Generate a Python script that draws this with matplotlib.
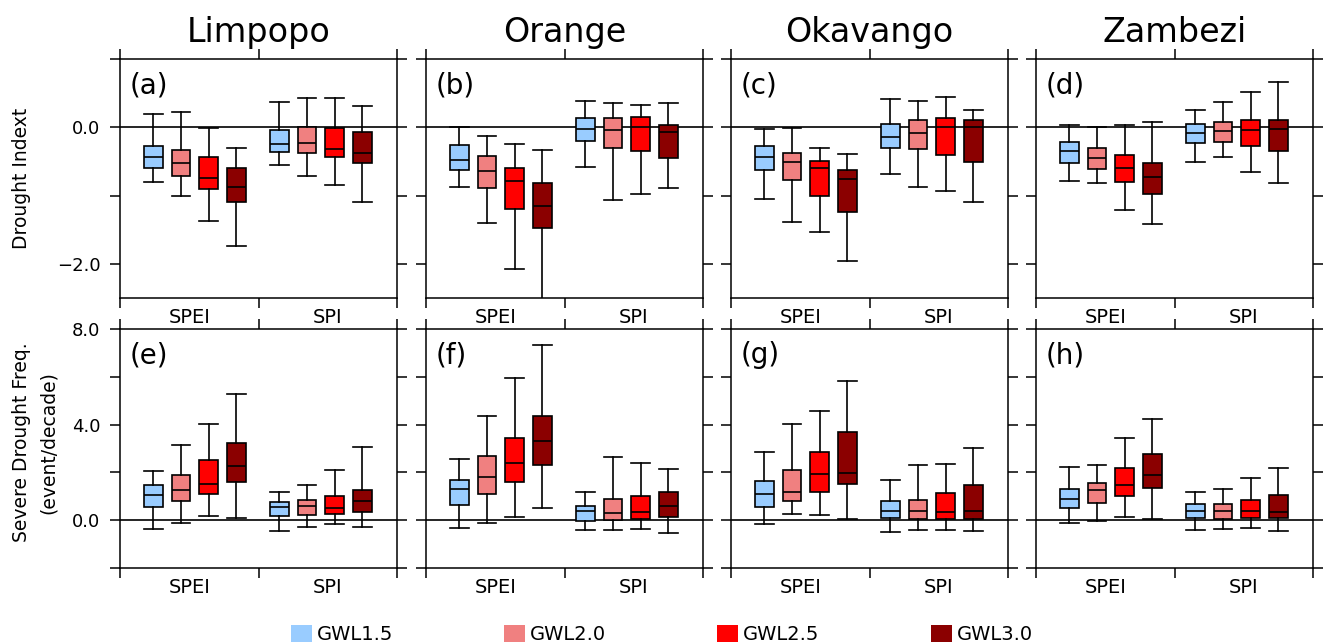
import numpy as np
import matplotlib.pyplot as plt
from matplotlib.patches import Patch

basins = ['Limpopo', 'Orange', 'Okavango', 'Zambezi']
gwls = ['GWL1.5', 'GWL2.0', 'GWL2.5', 'GWL3.0']
colors = ['#99CCFF', '#F08080', '#FF0000', '#8B0000']
indices = ['SPEI', 'SPI']
letters = ['(a)', '(b)', '(c)', '(d)', '(e)', '(f)', '(g)', '(h)']
positions = [1.2, 2.2, 3.2, 4.2, 5.75, 6.75, 7.75, 8.75]

# drought index (top row); each row = one basin: SPEI x4 GWLs, then SPI x4 GWLs
di_whishi = [
    [0.20, 0.23, -0.01, -0.31, 0.37, 0.43, 0.43, 0.31],
    [0.01, -0.13, -0.24, -0.33, 0.39, 0.36, 0.33, 0.36],
    [-0.03, -0.01, -0.31, -0.39, 0.42, 0.38, 0.44, 0.26],
    [0.03, 0.0, 0.04, 0.08, 0.25, 0.37, 0.52, 0.66],
]
di_q3 = [
    [-0.27, -0.33, -0.44, -0.60, -0.04, 0.0, -0.01, -0.07],
    [-0.26, -0.42, -0.60, -0.82, 0.13, 0.14, 0.15, 0.03],
    [-0.28, -0.37, -0.49, -0.63, 0.05, 0.10, 0.13, 0.11],
    [-0.21, -0.30, -0.40, -0.52, 0.05, 0.08, 0.10, 0.10],
]
di_med = [
    [-0.43, -0.53, -0.74, -0.88, -0.24, -0.23, -0.32, -0.37],
    [-0.48, -0.64, -0.79, -1.15, -0.03, -0.04, 0.0, -0.07],
    [-0.44, -0.51, -0.60, -0.76, -0.14, -0.08, 0.0, 0.0],
    [-0.34, -0.45, -0.60, -0.73, -0.08, -0.06, -0.04, -0.02],
]
di_q1 = [
    [-0.60, -0.72, -0.90, -1.10, -0.36, -0.38, -0.44, -0.53],
    [-0.62, -0.89, -1.19, -1.47, -0.20, -0.31, -0.35, -0.45],
    [-0.63, -0.77, -1.00, -1.24, -0.30, -0.32, -0.40, -0.51],
    [-0.52, -0.61, -0.80, -0.97, -0.23, -0.22, -0.28, -0.35],
]
di_whislo = [
    [-0.80, -1.00, -1.37, -1.74, -0.55, -0.71, -0.84, -1.10],
    [-0.88, -1.40, -2.07, -2.60, -0.58, -1.06, -0.97, -0.89],
    [-1.05, -1.38, -1.54, -1.96, -0.68, -0.88, -0.93, -1.10],
    [-0.78, -0.82, -1.21, -1.41, -0.51, -0.44, -0.66, -0.81],
]

# severe drought frequency (bottom row), event/decade
fq_whishi = [
    [2.04, 3.13, 4.01, 5.26, 1.18, 1.46, 2.08, 3.08],
    [2.58, 4.36, 5.93, 7.32, 1.19, 2.64, 2.39, 2.13],
    [2.86, 4.03, 4.58, 5.83, 1.67, 2.31, 2.35, 3.04],
    [2.24, 2.29, 3.42, 4.24, 1.18, 1.32, 1.75, 2.19],
]
fq_q3 = [
    [1.49, 1.90, 2.50, 3.25, 0.76, 0.83, 1.01, 1.26],
    [1.67, 2.68, 3.46, 4.36, 0.60, 0.88, 1.00, 1.19],
    [1.63, 2.08, 2.86, 3.71, 0.79, 0.86, 1.13, 1.47],
    [1.32, 1.57, 2.17, 2.79, 0.67, 0.67, 0.86, 1.07],
]
fq_med = [
    [1.06, 1.28, 1.53, 2.26, 0.56, 0.60, 0.49, 0.81],
    [1.32, 1.79, 2.40, 3.32, 0.38, 0.29, 0.36, 0.60],
    [1.08, 1.17, 1.93, 1.99, 0.40, 0.40, 0.35, 0.38],
    [0.90, 1.28, 1.49, 1.90, 0.38, 0.39, 0.40, 0.35],
]
fq_q1 = [
    [0.57, 0.79, 1.11, 1.60, 0.17, 0.21, 0.24, 0.33],
    [0.64, 1.11, 1.61, 2.31, -0.04, -0.01, 0.03, 0.13],
    [0.57, 0.81, 1.18, 1.53, 0.08, 0.03, 0.07, 0.03],
    [0.50, 0.74, 1.03, 1.36, 0.10, 0.07, 0.11, 0.11],
]
fq_whislo = [
    [-0.36, -0.10, 0.18, 0.11, -0.47, -0.28, -0.15, -0.28],
    [-0.31, -0.11, 0.13, 0.53, -0.40, -0.40, -0.38, -0.53],
    [-0.17, 0.26, 0.21, 0.03, -0.49, -0.39, -0.42, -0.47],
    [-0.13, -0.04, 0.15, 0.04, -0.40, -0.36, -0.32, -0.46],
]

di_yticks = [-2, -1, 0, 1]
di_ylabels = ['\u22122.0', '', '0.0', '']
fq_yticks = [-2, 0, 2, 4, 6, 8]
fq_ylabels = ['', '0.0', '', '4.0', '', '8.0']

W, H = 1323, 644
fig = plt.figure(figsize=(W / 100, H / 100), dpi=100)

lefts = [120, 426, 731, 1036]
tops = [59, 329]
aw, ah = 277, 239
lw = 1.2

rows = [
    (di_whishi, di_q3, di_med, di_q1, di_whislo, (-2.5, 1.0), di_yticks, di_ylabels),
    (fq_whishi, fq_q3, fq_med, fq_q1, fq_whislo, (-2.0, 8.0), fq_yticks, fq_ylabels),
]

for r, (whishi, q3, med, q1, whislo, ylim, yticks, ylabels) in enumerate(rows):
    for c in range(4):
        ax = fig.add_axes([lefts[c] / W, 1 - (tops[r] + ah) / H, aw / W, ah / H])
        stats = []
        for k in range(8):
            stats.append(dict(whislo=whislo[c][k], q1=q1[c][k], med=med[c][k],
                              q3=q3[c][k], whishi=whishi[c][k], fliers=[]))
        bp = ax.bxp(stats, positions=positions, widths=0.68, capwidths=0.68,
                    patch_artist=True, showfliers=False, manage_ticks=False,
                    boxprops=dict(linewidth=lw, edgecolor='black'),
                    medianprops=dict(color='black', linewidth=lw),
                    whiskerprops=dict(color='black', linewidth=lw),
                    capprops=dict(color='black', linewidth=lw))
        for k, box in enumerate(bp['boxes']):
            box.set_facecolor(colors[k % 4])
        ax.axhline(0, color='black', lw=lw, zorder=1)

        ax.set_xlim(0, 10)
        ax.set_ylim(*ylim)
        ax.set_xticks([0, 5, 10])
        ax.set_xticklabels([])
        ax.set_xticks([2.5, 7.5], minor=True)
        ax.set_xticklabels(indices, minor=True, fontsize=14)
        ax.tick_params(axis='x', which='minor', length=0, pad=7)
        ax.set_yticks(yticks)
        if c == 0:
            ax.set_yticklabels(ylabels, fontsize=13)
        else:
            ax.set_yticklabels([])
        ax.tick_params(axis='both', which='major', direction='out', length=7,
                       width=1.1, top=True, right=True, pad=7)
        for sp in ax.spines.values():
            sp.set_linewidth(1.1)

        ax.text(0.035, 0.89, letters[r * 4 + c], transform=ax.transAxes,
                fontsize=20, ha='left', va='center')

        if r == 0:
            fig.text((lefts[c] + aw / 2) / W, 1 - 42 / H, basins[c],
                     fontsize=24, ha='center', va='baseline')

fig.text(22 / W, 1 - (tops[0] + ah / 2) / H, 'Drought Indext', rotation=90,
         fontsize=13.5, ha='center', va='center')
fig.text(35 / W, 1 - (tops[1] + ah / 2 - 6) / H, 'Severe Drought Freq.\n(event/decade)',
         rotation=90, fontsize=13.5, ha='center', va='center', linespacing=1.5,
         multialignment='center')

handles = [Patch(facecolor=col, edgecolor='none') for col in colors]
fig.legend(handles, gwls, loc='center left', bbox_to_anchor=(291 / W, 1 - 634.5 / H),
           ncol=4, frameon=False, fontsize=14, handlelength=1.08, handleheight=0.98,
           handletextpad=0.26, columnspacing=5.7, borderpad=0, borderaxespad=0)

fig.savefig('out.png', dpi=100)
